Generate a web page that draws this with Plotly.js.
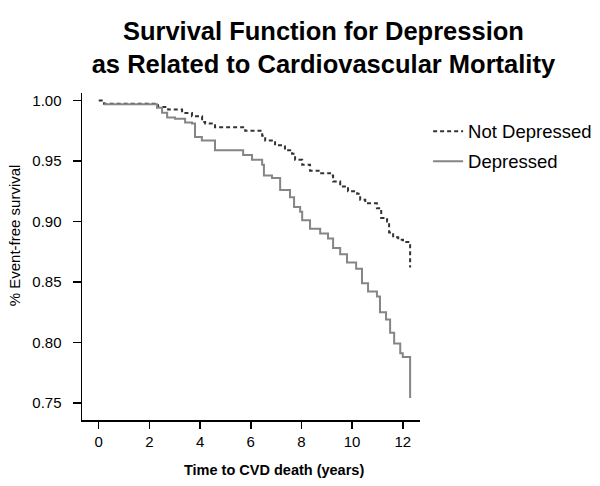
<!DOCTYPE html>
<html>
<head>
<meta charset="utf-8">
<script src="https://cdn.plot.ly/plotly-3.0.1.min.js"></script>
<style>html,body{margin:0;padding:0;background:#fff;}#chart{width:600px;height:486px;}</style>
</head>
<body>
<div id="chart"></div>
<script>
// Kaplan-Meier step points (time in years, survival proportion)
const notDepressedTime = [0.0, 0.21, 2.14, 2.34, 2.74, 3.29, 3.68, 4.08, 4.20, 4.59, 5.26, 5.78, 6.45, 6.57, 6.96, 7.35, 7.63, 7.75, 8.03, 8.34, 8.74, 9.13, 9.25, 9.53, 9.84, 10.20, 10.32, 10.52, 10.98, 11.15, 11.38, 11.46, 11.62, 11.82, 12.01, 12.29, 12.29];
const notDepressedSurv = [1.000, 0.9975, 0.9975, 0.9947, 0.9926, 0.9898, 0.9870, 0.9823, 0.981, 0.978, 0.978, 0.975, 0.971, 0.967, 0.963, 0.959, 0.956, 0.951, 0.947, 0.942, 0.940, 0.938, 0.933, 0.929, 0.925, 0.923, 0.918, 0.915, 0.911, 0.903, 0.900, 0.891, 0.887, 0.885, 0.883, 0.882, 0.862];

const depressedTime = [0.21, 2.14, 2.30, 2.50, 2.70, 3.01, 3.41, 3.68, 3.80, 4.07, 4.59, 5.26, 5.70, 6.05, 6.45, 6.52, 6.84, 7.16, 7.55, 7.71, 7.95, 8.03, 8.34, 8.74, 9.05, 9.25, 9.53, 9.80, 10.16, 10.39, 10.63, 10.98, 11.10, 11.34, 11.50, 11.66, 11.90, 12.00, 12.29, 12.29];
const depressedSurv = [0.997, 0.997, 0.994, 0.990, 0.986, 0.985, 0.982, 0.981, 0.970, 0.967, 0.959, 0.959, 0.955, 0.951, 0.947, 0.938, 0.936, 0.926, 0.920, 0.912, 0.908, 0.901, 0.894, 0.890, 0.886, 0.878, 0.873, 0.866, 0.861, 0.849, 0.842, 0.838, 0.825, 0.819, 0.808, 0.799, 0.791, 0.788, 0.788, 0.754];

const xTickVals = [0, 2, 4, 6, 8, 10, 12];
const yTickVals = [0.75, 0.80, 0.85, 0.90, 0.95, 1.00];
const yTickText = ['0.75', '0.80', '0.85', '0.90', '0.95', '1.00'];

const FONT = 'Liberation Sans, Arial, Helvetica, sans-serif';

const traces = [
  {
    x: notDepressedTime, y: notDepressedSurv, type: 'scatter', mode: 'lines',
    name: 'Not Depressed', legend: 'legend',
    line: {shape: 'hv', color: '#333333', width: 2, dash: '4px,3px'}
  },
  {
    x: depressedTime, y: depressedSurv, type: 'scatter', mode: 'lines',
    name: 'Depressed', legend: 'legend2',
    line: {shape: 'hv', color: '#858585', width: 2}
  }
];

const layout = {
  width: 600, height: 486,
  margin: {l: 82, r: 180, t: 93, b: 66, pad: 0, autoexpand: false},
  paper_bgcolor: '#fff', plot_bgcolor: '#fff',
  font: {family: FONT, color: '#000'},
  title: {
    text: '<b>Survival Function for Depression<br>as Related to Cardiovascular Mortality</b>',
    font: {family: FONT, size: 25.5, color: '#000'},
    x: 0.539, xanchor: 'center', xref: 'container',
    y: 0.918, yanchor: 'top', yref: 'container'
  },
  xaxis: {
    range: [-0.66, 12.68], tickvals: xTickVals, ticktext: xTickVals.map(String),
    showgrid: false, zeroline: false, showline: true, linecolor: '#000', linewidth: 1.5,
    ticks: 'outside', ticklen: 7, tickwidth: 1.5, tickcolor: '#000',
    tickfont: {family: FONT, size: 15, color: '#000'}, fixedrange: true
  },
  yaxis: {
    range: [0.7358, 1.0063], tickvals: yTickVals, ticktext: yTickText,
    showgrid: false, zeroline: false, showline: true, linecolor: '#000', linewidth: 1.5,
    ticks: 'outside', ticklen: 8, tickwidth: 1.5, tickcolor: '#000',
    ticklabelstandoff: 8,
    tickfont: {family: FONT, size: 15, color: '#000'}, fixedrange: true
  },
  showlegend: true,
  legend: {
    x: 1.024, xanchor: 'left', y: 0.94, yanchor: 'top',
    font: {family: FONT, size: 18.5, color: '#000'}, bgcolor: 'rgba(0,0,0,0)',
    borderwidth: 0, itemwidth: 30
  },
  legend2: {
    x: 1.024, xanchor: 'left', y: 0.848, yanchor: 'top',
    font: {family: FONT, size: 18.5, color: '#000'}, bgcolor: 'rgba(0,0,0,0)',
    borderwidth: 0, itemwidth: 30
  },
  annotations: [
    {
      text: '<b>Time to CVD death (years)</b>', xref: 'paper', yref: 'paper',
      x: 0.568, y: -0.153, xanchor: 'center', yanchor: 'middle', showarrow: false,
      font: {family: FONT, size: 14.5, color: '#000'}
    },
    {
      text: '% Event-free survival', xref: 'paper', yref: 'paper', textangle: -90,
      x: -0.201, y: 0.565, xanchor: 'center', yanchor: 'middle', showarrow: false,
      font: {family: FONT, size: 15, color: '#000'}
    }
  ]
};

Plotly.newPlot('chart', traces, layout, {displayModeBar: false, staticPlot: true});
</script>
</body>
</html>
